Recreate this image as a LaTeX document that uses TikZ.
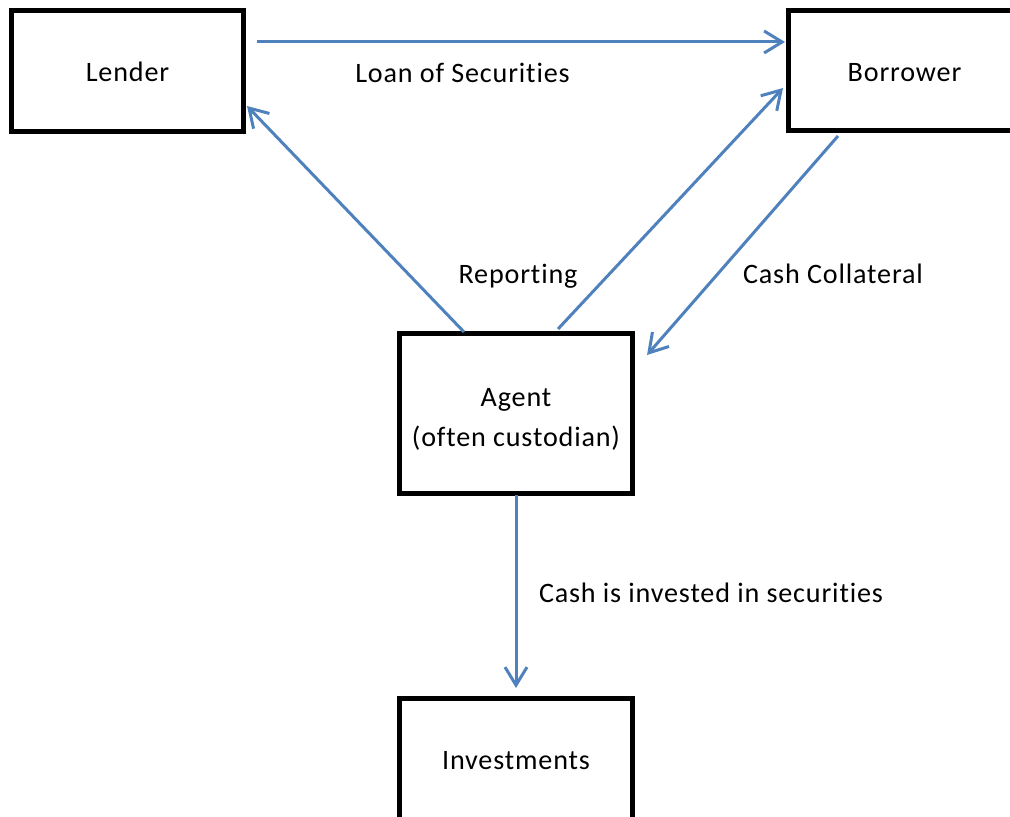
\documentclass[tikz,border=0pt]{standalone}
\usepackage{fontspec}
\setmainfont{Carlito}[Ligatures=NoCommon, LetterSpace=3]
\usetikzlibrary{arrows.meta}
\definecolor{flowblue}{RGB}{79,129,189}
\tikzset{
	party/.style={draw, line width=0.125cm, inner sep=0pt, outer sep=0pt, minimum width=5.775cm, align=center, font=\fontsize{20}{29}\selectfont},
	flow/.style={draw=flowblue, line width=0.075cm, -{Straight Barb[length=0.45cm, width=0.55cm]}},
	lbl/.style={anchor=base, inner sep=0pt, font=\fontsize{20}{29}\selectfont}
}
\begin{document}
\begin{tikzpicture}[x=0.025cm, y=-0.025cm]
				\clip (0,0) rectangle (1010,816);
				\node[party, minimum height=3cm] (lender) at (127.5,71) {\rule{0pt}{0.55cm}Lender};
				\node[party, minimum height=2.975cm] (borrower) at (904.5,70.5) {\rule{0pt}{0.55cm}Borrower};
				\node[party, minimum width=5.8cm, minimum height=3.975cm] (agent) at (516,413.5) {\rule{0pt}{0.75cm}Agent\\(often custodian)};
				\node[party, minimum width=5.8cm, minimum height=3.075cm] (investments) at (516,760.5) {Investments};
				\draw[flow] ([shift={(14,31)}]lender.north east) -- ([shift={(-4,31)}]borrower.north west);
				\draw[flow] ([shift={(-52,-2)}]agent.north) -- ([shift={(4,-25)}]lender.south east);
				\draw[flow] ([shift={(42,-5)}]agent.north) -- ([shift={(-6,-42)}]borrower.south west);
				\draw[flow] ([shift={(49,6)}]borrower.south west) -- ([shift={(15,21)}]agent.north east);
				\draw[flow] ([shift={(0,2)}]agent.south) -- ([shift={(0,-11)}]investments.north);
				\node[lbl] (loan) at (462.5,82) {Loan of Securities};
				\node[lbl] (reporting) at (518,283) {Reporting};
				\node[lbl] (collateral) at (833,283) {Cash Collateral};
				\node[lbl] (invested) at (711,602) {Cash is invested in securities};
\end{tikzpicture}
\end{document}
